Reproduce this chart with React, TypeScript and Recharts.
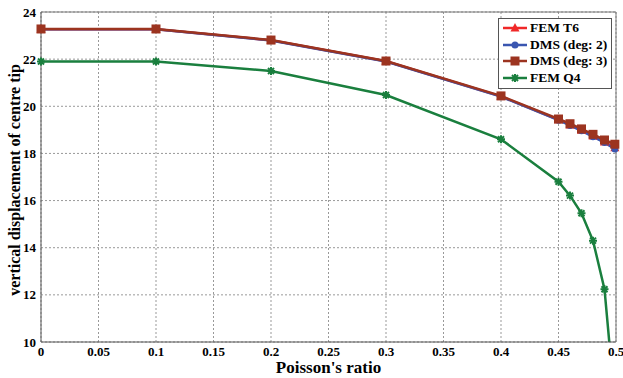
import {
  LineChart,
  Line,
  XAxis,
  YAxis,
  CartesianGrid,
  ReferenceLine,
} from 'recharts';

const FONT = 'Liberation Serif, DejaVu Serif, Times New Roman, serif';

const poisson = [0, 0.1, 0.2, 0.3, 0.4, 0.45, 0.46, 0.47, 0.48, 0.49, 0.499];
const femT6 = [23.27, 23.27, 22.8, 21.91, 20.42, 19.43, 19.21, 18.98, 18.74, 18.49, 18.24];
const dmsDeg2 = [23.27, 23.27, 22.79, 21.9, 20.41, 19.41, 19.19, 18.96, 18.71, 18.46, 18.19];
const dmsDeg3 = [23.28, 23.28, 22.81, 21.92, 20.44, 19.46, 19.26, 19.04, 18.81, 18.57, 18.39];
const femQ4 = [21.9, 21.9, 21.5, 20.48, 18.6, 16.8, 16.21, 15.46, 14.3, 12.24, 7.4];

const xTicks = [0, 0.05, 0.1, 0.15, 0.2, 0.25, 0.3, 0.35, 0.4, 0.45, 0.5];
const yTicks = [10, 12, 14, 16, 18, 20, 22, 24];

const data = poisson.map((nu, i) => ({
  nu,
  t6: femT6[i],
  d2: dmsDeg2[i],
  d3: dmsDeg3[i],
  q4: femQ4[i],
}));

const RED = '#f02828';
const BLUE = '#3a56b0';
const BROWN = '#9c3420';
const GREEN = '#1a7f3e';

const triangle = (color: string) => (p: any) => (
  <polygon
    key={p.index}
    points={`${p.cx},${p.cy - 5} ${p.cx - 4.5},${p.cy + 3.5} ${p.cx + 4.5},${p.cy + 3.5}`}
    fill={color}
  />
);
const circle = (color: string) => (p: any) => (
  <circle key={p.index} cx={p.cx} cy={p.cy} r={3.5} fill={color} />
);
const square = (color: string) => (p: any) => (
  <rect key={p.index} x={p.cx - 4.5} y={p.cy - 4.5} width={9} height={9} fill={color} />
);
const star = (color: string) => (p: any) => (
  <g key={p.index} stroke={color} strokeWidth={2}>
    <line x1={p.cx - 4} y1={p.cy} x2={p.cx + 4} y2={p.cy} />
    <line x1={p.cx} y1={p.cy - 4} x2={p.cx} y2={p.cy + 4} />
    <line x1={p.cx - 3} y1={p.cy - 3} x2={p.cx + 3} y2={p.cy + 3} />
    <line x1={p.cx - 3} y1={p.cy + 3} x2={p.cx + 3} y2={p.cy - 3} />
  </g>
);

const legendItems = [
  { name: 'FEM T6', color: RED, marker: triangle },
  { name: 'DMS (deg: 2)', color: BLUE, marker: circle },
  { name: 'DMS (deg: 3)', color: BROWN, marker: square },
  { name: 'FEM Q4', color: GREEN, marker: star },
];

// legend drawn as an overlay so it does not shrink the plot area
function LegendBox() {
  return (
    <div
      style={{
        position: 'absolute',
        left: 498,
        top: 18,
        background: '#fff',
        border: '1px solid #555',
        padding: '1px 4px 2px 4px',
        fontFamily: FONT,
        fontWeight: 'bold',
        fontSize: 13.5,
        color: '#000',
      }}
    >
      {legendItems.map((it) => (
        <div key={it.name} style={{ display: 'flex', alignItems: 'center', height: 16.5 }}>
          <svg width={24} height={16} style={{ marginRight: 3 }}>
            <line x1={0} y1={8} x2={24} y2={8} stroke={it.color} strokeWidth={2.5} />
            {it.marker(it.color)({ cx: 12, cy: 8, index: 0 })}
          </svg>
          <span>{it.name}</span>
        </div>
      ))}
    </div>
  );
}

function YLabel(props: any) {
  const vb = props.viewBox || {};
  const x = vb.x + 14;
  const y = vb.y + vb.height / 2 + 3;
  return (
    <text
      x={x}
      y={y}
      transform={`rotate(-90, ${x}, ${y})`}
      textAnchor="middle"
      dominantBaseline="central"
      style={{ fontFamily: FONT, fontWeight: 'bold', fontSize: 16 }}
      fill="#000"
    >
      vertical displacement of centre tip
    </text>
  );
}

const tickStyle = { fill: '#000', fontFamily: FONT, fontWeight: 'bold', fontSize: 13 };

export default function App() {
  return (
    <div style={{ position: 'absolute', left: 0, top: 0, width: 623, height: 378, background: '#fff' }}>
      <LineChart
        width={623}
        height={378}
        data={data}
        margin={{ top: 12, right: 7, bottom: 0, left: 0 }}
      >
        <CartesianGrid stroke="#999" strokeDasharray="2 2" />
        <XAxis
          dataKey="nu"
          type="number"
          domain={[0, 0.5]}
          ticks={xTicks}
          interval={0}
          height={36}
          tickLine={false}
          tickSize={3}
          stroke="#555"
          tick={tickStyle}
          label={{
            value: "Poisson's ratio",
            position: 'insideBottom',
            offset: 5,
            fill: '#000',
            style: { fontFamily: FONT, fontWeight: 'bold', fontSize: 17 },
          }}
        />
        <YAxis
          type="number"
          domain={[10, 24]}
          ticks={yTicks}
          interval={0}
          allowDataOverflow
          width={41}
          tickLine={false}
          tickSize={3}
          stroke="#555"
          tick={tickStyle}
          label={<YLabel />}
        />
        <ReferenceLine y={24} stroke="#777" strokeWidth={1} />
        <ReferenceLine x={0.5} stroke="#777" strokeWidth={1} />
        <Line
          dataKey="t6"
          stroke={RED}
          strokeWidth={2.5}
          dot={triangle(RED)}
          isAnimationActive={false}
        />
        <Line
          dataKey="d2"
          stroke={BLUE}
          strokeWidth={2.5}
          dot={circle(BLUE)}
          isAnimationActive={false}
        />
        <Line
          dataKey="d3"
          stroke={BROWN}
          strokeWidth={2.5}
          dot={square(BROWN)}
          isAnimationActive={false}
        />
        <Line
          dataKey="q4"
          stroke={GREEN}
          strokeWidth={2.5}
          dot={star(GREEN)}
          isAnimationActive={false}
        />
      </LineChart>
      <LegendBox />
    </div>
  );
}
